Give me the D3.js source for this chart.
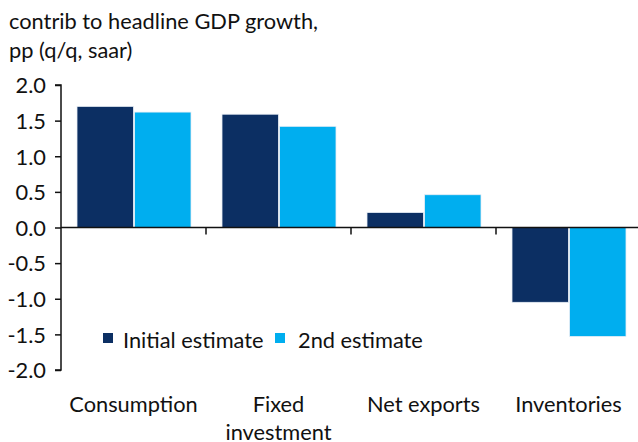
<!DOCTYPE html>
<html><head><meta charset="utf-8">
<script src="https://cdn.jsdelivr.net/npm/d3@7"></script>
<style>body{margin:0;background:#fff}svg{display:block}text{font-family:Lato,"Noto Sans",sans-serif;fill:#111}</style>
</head><body><svg id="c" width="638" height="442"></svg>
<script>
const categories = ["Consumption", "Fixed investment", "Net exports", "Inventories"];
const seriesNames = ["Initial estimate", "2nd estimate"];
const initialEstimate = [1.70, 1.59, 0.21, -1.05];
const secondEstimate = [1.62, 1.42, 0.46, -1.53];
const yTicks = [2.0, 1.5, 1.0, 0.5, 0.0, -0.5, -1.0, -1.5, -2.0];
const colors = ["#0c2f63", "#00aeef"];
const titleLines = ["contrib to headline GDP growth,", "pp (q/q, saar)"];

const svg = d3.select("#c");
const fs = 21.8;
const x0 = d3.scaleBand().domain(categories).range([61, 641]).paddingInner(0).paddingOuter(0);
const x1 = d3.scaleBand().domain(seriesNames).range([16, 145 - 15]).paddingInner(0.02);
const y = d3.scaleLinear().domain([-2, 2]).range([370, 85]);
const color = d3.scaleOrdinal().domain(seriesNames).range(colors);

// title
svg.append("g").selectAll("text").data(titleLines).join("text")
  .attr("x", 9).attr("y", (d, i) => 29 + i * 29)
  .style("font-size", fs + "px").text(d => d);

// bars
const data = categories.map((c, i) => ({c, vals: [initialEstimate[i], secondEstimate[i]]}));
const g = svg.append("g");
g.selectAll("g").data(data).join("g")
  .attr("transform", d => `translate(${x0(d.c)},0)`)
  .selectAll("rect").data(d => d.vals.map((v, j) => ({s: seriesNames[j], v})))
  .join("rect")
  .attr("x", d => x1(d.s)).attr("width", x1.bandwidth())
  .attr("y", d => y(Math.max(0, d.v))).attr("height", d => Math.abs(y(d.v) - y(0)))
  .attr("fill", d => color(d.s)).attr("stroke", "#e8eef5").attr("stroke-width", 0.8);

// y axis
const yAxis = d3.axisLeft(y).tickValues(yTicks).tickSize(6).tickPadding(9).tickFormat(d3.format(".1f"));
const ya = svg.append("g").attr("transform", "translate(61,0)").call(yAxis);
ya.select(".domain").attr("stroke", "#111").attr("stroke-width", 1.5).attr("d", "M-6,85H0V370H-6");
ya.selectAll(".tick line").attr("stroke", "#111").attr("stroke-width", 1.5);
ya.selectAll(".tick text").style("font-size", fs + "px").attr("fill", "#111").attr("dy", "0.36em")
  .text(d => d < 0 ? "-" + d3.format(".1f")(-d) : d3.format(".1f")(d));

// zero line with category ticks
const xa = d3.axisBottom(x0).tickSize(0).tickFormat("");
const xg = svg.append("g").attr("transform", `translate(0,${y(0)})`).call(xa);
xg.select(".domain").attr("stroke", "#111").attr("stroke-width", 1.5).attr("d", "M61,0H638");
xg.selectAll(".tick").remove();
svg.append("g").selectAll("line").data(categories.slice(1)).join("line")
  .attr("x1", d => x0(d)).attr("x2", d => x0(d))
  .attr("y1", y(0)).attr("y2", y(0) + 7).attr("stroke", "#111").attr("stroke-width", 1.5);

// category labels
const lab = svg.append("g").selectAll("text").data(categories).join("text")
  .attr("text-anchor", "middle").style("font-size", fs + "px")
  .attr("x", d => x0(d) + x0.bandwidth() / 2).attr("y", 412);
lab.each(function(d) {
  const t = d3.select(this);
  const lines = d === "Fixed investment" ? ["Fixed", "investment"] : [d];
  lines.forEach((l, i) => t.append("tspan").attr("x", x0(d) + x0.bandwidth() / 2).attr("dy", i ? 28 : 0).text(l));
});

// legend
const legX = [103, 275];
const legTextOff = [20, 23];
const leg = svg.append("g").selectAll("g").data(seriesNames).join("g")
  .attr("transform", (d, i) => `translate(${legX[i]},333)`);
leg.append("rect").attr("width", 10).attr("height", 10).attr("fill", d => color(d));
leg.append("text").attr("x", (d, i) => legTextOff[i]).attr("y", 15).style("font-size", fs + "px").text(d => d);
</script></body></html>
